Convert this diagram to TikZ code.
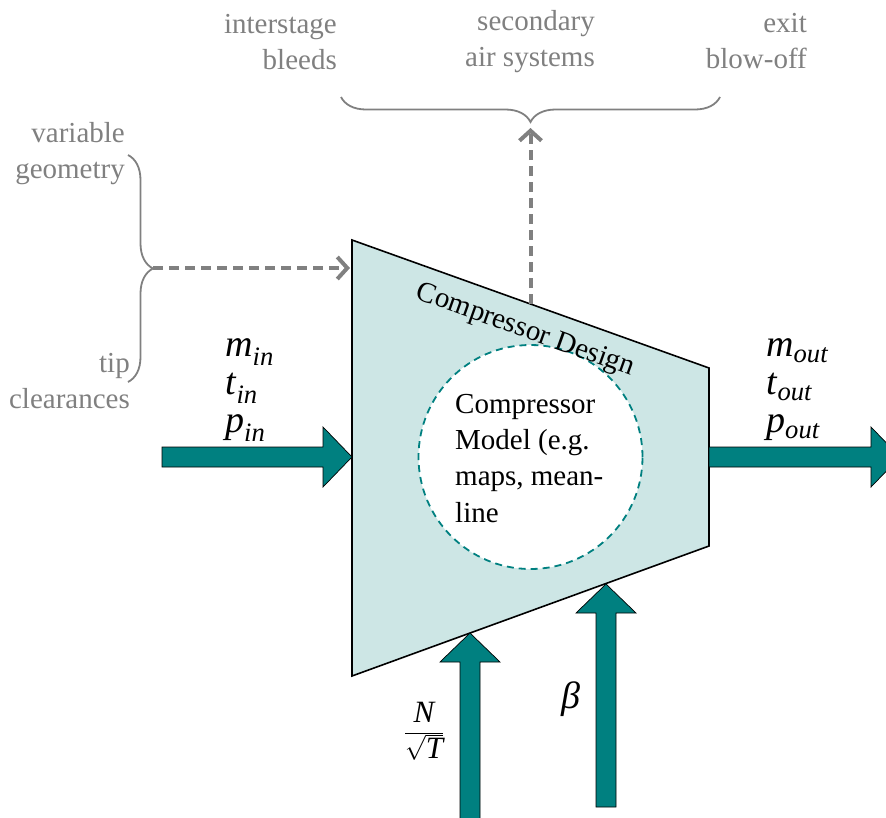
\documentclass[tikz,border=0pt]{standalone}
\usepackage{fontspec}
\setmainfont{Liberation Serif}
\usetikzlibrary{decorations.pathreplacing,arrows.meta}

\definecolor{flowteal}{RGB}{0,128,128}
\definecolor{bodyfill}{RGB}{205,230,229}
\definecolor{notegray}{RGB}{128,128,128}

\begin{document}
\begin{tikzpicture}[x=1pt,y=-1pt,
  body/.style={draw=black, line width=1.6pt, fill=bodyfill, line join=miter},
  fatbody/.style={fill=flowteal, draw=black, line width=0.7pt, line join=miter},
  pics/fatarrow/.style={code={
    \path[fatbody] (0,0) -- (-29,-30) -- (-29,-10) -- (-#1,-10)
      -- (-#1,10) -- (-29,10) -- (-29,30) -- cycle;}},
  note/.style={text=notegray, font=\fontsize{29}{36}\selectfont,
    align=right, inner sep=0pt, anchor=base east},
  flowlabel/.style={font=\fontsize{38}{38}\selectfont, align=left,
    inner sep=0pt, anchor=base west},
  graydash/.style={draw=notegray, line width=4pt, dash pattern=on 10pt off 6pt,
    -{Straight Barb[length=10pt,width=22pt,line width=4pt]}},
  bracket/.style={draw=notegray, line width=1.8pt,
    decorate, decoration={brace, amplitude=25pt}},
  modeltext/.style={font=\fontsize{29}{36.3}\selectfont, align=left,
    inner sep=0pt, anchor=base west}
]
\useasboundingbox (0,0) rectangle (886,817);

% compressor body
\coordinate (tl) at (352,240);
\coordinate (tr) at (709,368);
\coordinate (br) at (709,546);
\coordinate (bl) at (352,676);
\path[body] (tl) -- (tr) -- (br) -- (bl) -- cycle;

% inner model (multi-line nodes sit on their last baseline)
\node[circle, draw=flowteal, fill=white, line width=1.8pt,
      dash pattern=on 7pt off 5pt, minimum size=224pt, inner sep=0pt]
      (model) at (530.5,457) {};
\node[modeltext] (modeltxt) at (455,522)
  {Compressor\\Model (e.g.\\maps, mean-\\line};

\node[font=\fontsize{29}{36}\selectfont, inner sep=0pt, anchor=base,
      rotate=-19.7] (design) at (523,337) {Compressor Design};

% main flow arrows
\coordinate (inTip) at (352,457);
\coordinate (outTip) at (900,457);
\coordinate (nTip) at (470,633);
\coordinate (betaTip) at (606,584);
\pic at (inTip) {fatarrow=190};
\pic at (outTip) {fatarrow=191};
\pic[rotate=90] at (nTip) {fatarrow=192};
\pic[rotate=90] at (betaTip) {fatarrow=223};

% flow labels
\node[flowlabel] (inlab) at (225,432)
  {\textit{m}\textsubscript{\textit{in}}\\\textit{t}\textsubscript{\textit{in}}\\\textit{p}\textsubscript{\textit{in}}};
\node[flowlabel] (outlab) at (766,432)
  {\textit{m}\textsubscript{\textit{out}}\\\textit{t}\textsubscript{\textit{out}}\\\textit{p}\textsubscript{\textit{out}}};
\node[font=\fontsize{38}{38}\selectfont, inner sep=0pt, anchor=base]
  (betalab) at (571,708) {\textit{β}};
\node[font=\fontsize{31}{34}\selectfont, inner sep=0pt]
  (speedlab) at (424,731) {$\displaystyle\frac{\textit{N}}{\sqrt{\textit{T}}}$};

% left bracket: variable geometry / tip clearances
\coordinate (lbA) at (128,155);
\coordinate (lbB) at (128,382);
\coordinate (lbTip) at (153,268);
\coordinate (lbEnd) at (350,268);
\path[bracket] (lbA) -- (lbB);
\node[note] (vargeo) at (125,178) {variable\\geometry};
\node[note] (tipcl) at (130,408) {tip\\clearances};
\path[graydash] (lbTip) -- (lbEnd);

% top bracket: bleeds and air systems
\coordinate (tbA) at (720,97);
\coordinate (tbB) at (341,97);
\coordinate (tbTip) at (530.5,128);
\coordinate (tbStart) at (530.5,304);
\path[bracket] (tbA) -- (tbB);
\path[graydash] (tbStart) -- (tbTip);
\node[note] (bleeds) at (337,69) {interstage\\bleeds};
\node[note] (secair) at (595,66) {secondary\\air systems};
\node[note] (blowoff) at (807,68) {exit\\blow-off};
\end{tikzpicture}
\end{document}
